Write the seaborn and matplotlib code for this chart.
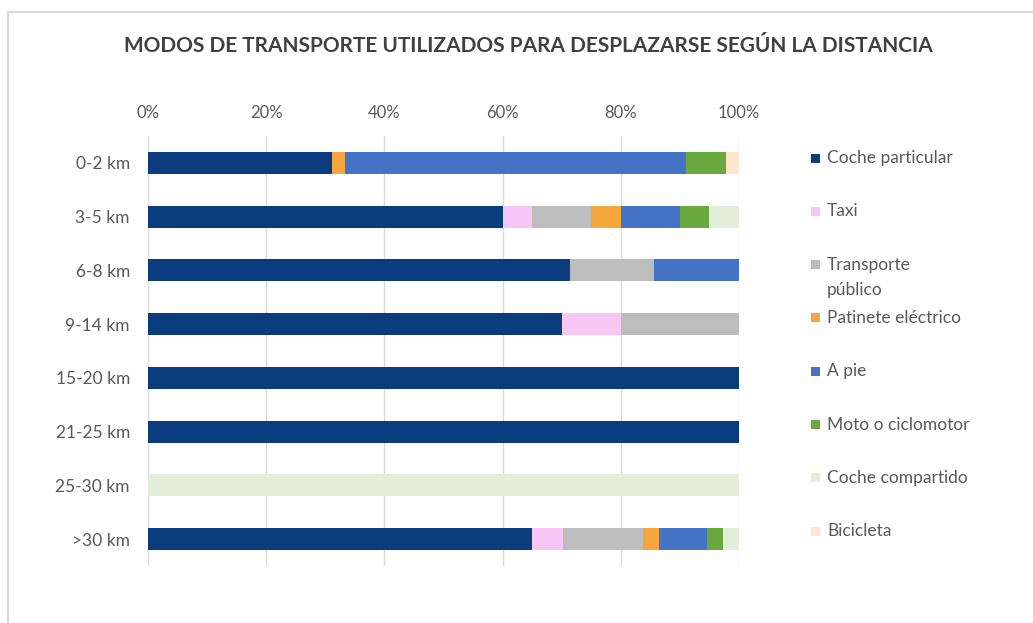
"""
Modos de transporte utilizados para desplazarse según la distancia.
Stacked 100% horizontal bars drawn with seaborn (cumulative overlay).
"""
import matplotlib.pyplot as plt
import pandas as pd
import seaborn as sns
from matplotlib.patches import Rectangle

# Data (percent of trips per distance band)
DISTANCES = ["0-2 km", "3-5 km", "6-8 km", "9-14 km",
             "15-20 km", "21-25 km", "25-30 km", ">30 km"]
MODES = ["Coche particular", "Taxi", "Transporte\npúblico",
         "Patinete eléctrico", "A pie", "Moto o ciclomotor",
         "Coche compartido", "Bicicleta"]
COCHE_PARTICULAR = [31.1, 60.0, 71.4, 70.0, 100.0, 100.0, 0.0, 64.9]
TAXI = [0.0, 5.0, 0.0, 10.0, 0.0, 0.0, 0.0, 5.4]
TRANSPORTE_PUBLICO = [0.0, 10.0, 14.3, 20.0, 0.0, 0.0, 0.0, 13.5]
PATINETE = [2.2, 5.0, 0.0, 0.0, 0.0, 0.0, 0.0, 2.7]
A_PIE = [57.8, 10.0, 14.3, 0.0, 0.0, 0.0, 0.0, 8.1]
MOTO = [6.7, 5.0, 0.0, 0.0, 0.0, 0.0, 0.0, 2.7]
COCHE_COMPARTIDO = [0.0, 5.0, 0.0, 0.0, 0.0, 0.0, 100.0, 2.7]
BICICLETA = [2.2, 0.0, 0.0, 0.0, 0.0, 0.0, 0.0, 0.0]
X_TICKS = [0, 20, 40, 60, 80, 100]

COLORS = ["#0B3C7D", "#F7C6F4", "#BDBDBD", "#F5A73D",
          "#4472C4", "#6AA940", "#E2EDDA", "#FDE6CB"]

W, H = 1033, 623
TEXT_GREY = "#595959"

sns.set_theme(style="white")
plt.rcParams["font.family"] = ["Lato", "DejaVu Sans"]

df = pd.DataFrame({
    MODES[0]: COCHE_PARTICULAR,
    MODES[1]: TAXI,
    MODES[2]: TRANSPORTE_PUBLICO,
    MODES[3]: PATINETE,
    MODES[4]: A_PIE,
    MODES[5]: MOTO,
    MODES[6]: COCHE_COMPARTIDO,
    MODES[7]: BICICLETA,
})
cum = df.cumsum(axis=1)
cum["distancia"] = DISTANCES

fig = plt.figure(figsize=(W / 100, H / 100), dpi=100)
ax = fig.add_axes([148 / W, 1 - 566 / H, (739 - 148) / W, (566 - 136) / H])

# draw the cumulative totals from the last mode back to the first
for mode, color in reversed(list(zip(MODES, COLORS))):
    sns.barplot(data=cum, x=mode, y="distancia", order=DISTANCES,
                color=color, saturation=1, width=0.41, orient="h",
                errorbar=None, linewidth=0, ax=ax)

ax.set_xlim(0, 100)
ax.set_xticks(X_TICKS)
ax.set_xticklabels([f"{t}%" for t in X_TICKS])
ax.xaxis.tick_top()
ax.set_xlabel("")
ax.set_ylabel("")
ax.tick_params(axis="x", length=0, pad=11, labelsize=12, colors=TEXT_GREY)
ax.tick_params(axis="y", length=0, pad=13, labelsize=12.5, colors=TEXT_GREY)
ax.grid(axis="x", color="#D9D9D9", linewidth=1)
ax.set_axisbelow(True)
for spine in ax.spines.values():
    spine.set_visible(False)

fig.text(528 / W, 1 - 46 / H,
         "MODOS DE TRANSPORTE UTILIZADOS PARA DESPLAZARSE SEGÚN LA DISTANCIA",
         ha="center", va="center", fontsize=15, color="#404040",
         fontweight="bold")

# legend, one slot per mode, evenly spaced like the bars
for i, (mode, color) in enumerate(zip(MODES, COLORS)):
    yc = 158 + i * 53.3
    fig.add_artist(Rectangle((811 / W, 1 - (yc + 4.5) / H), 9 / W, 9 / H,
                             transform=fig.transFigure, color=color,
                             linewidth=0))
    fig.text(827 / W, 1 - (yc - 8) / H, mode, ha="left", va="top",
             fontsize=12.5, color=TEXT_GREY, linespacing=1.7)

# light frame around the chart area
fig.add_artist(Rectangle((8 / W, -0.05), 1.1, 1 - 12 / H + 0.05,
                         transform=fig.transFigure, fill=False,
                         edgecolor="#D9D9D9", linewidth=1.5))

fig.savefig("out.png", dpi=100)
